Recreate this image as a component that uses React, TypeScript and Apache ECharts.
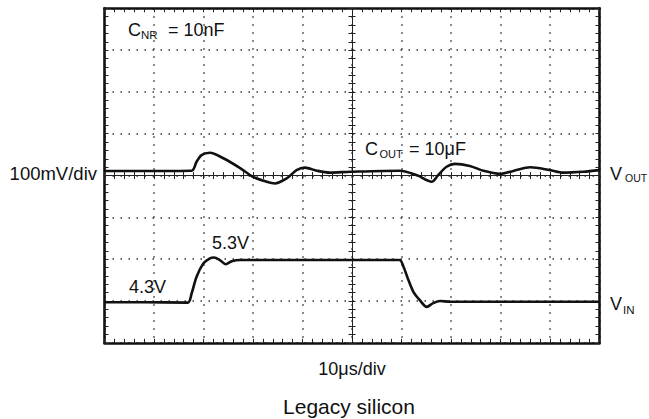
import React, { useEffect, useRef } from "react";
import * as echarts from "echarts";

// time in µs (10 µs/div), amplitude in divisions
const xTicks = [0, 10, 20, 30, 40, 50, 60, 70, 80, 90, 100];
const yTicks = [-4, -3, -2, -1, 0, 1, 2, 3, 4];

const voutX = [0, 9, 17.6, 18.6, 19.6, 21.3, 23.9, 27.4, 30.0, 32.8, 34.4, 36.8, 38.8, 40.5, 42.9, 45.5, 49.6, 59.7, 63.1, 66.1, 67.4, 69.1, 70.8, 73.8, 76.5, 79.9, 82.6, 86.0, 90.0, 92.7, 96.7, 100];
const voutY = [0.11, 0.11, 0.115, 0.33, 0.49, 0.545, 0.42, 0.18, -0.03, -0.15, -0.19, -0.07, 0.13, 0.19, 0.115, 0.07, 0.09, 0.115, 0.01, -0.15, 0.01, 0.21, 0.28, 0.23, 0.115, 0.04, 0.11, 0.197, 0.13, 0.07, 0.09, 0.13];

const vinX = [0, 8, 16.8, 17.6, 18.6, 20.0, 21.3, 22.1, 23.3, 24.5, 25.7, 27.4, 40, 50, 59.6, 60.4, 61.4, 62.4, 63.7, 65.1, 66.4, 67.8, 69.8, 80, 90, 100];
const vinY = [-3.03, -3.03, -3.04, -2.82, -2.42, -2.10, -1.98, -1.96, -2.02, -2.12, -2.05, -2.02, -2.02, -2.02, -2.02, -2.18, -2.50, -2.78, -2.98, -3.14, -3.05, -3.0, -3.02, -3.02, -3.02, -3.02];

const FONT = "'Liberation Sans', Arial, Helvetica, sans-serif";
const INK = "#111";

const GRID = { left: 104.5, top: 8.3, width: 495, height: 334.5 };

function txt(text: string, x: number, y: number, size: number, align: string = "left") {
  return {
    type: "text",
    x,
    y,
    silent: true,
    style: { text, fontSize: size, fontFamily: FONT, fill: INK, align, verticalAlign: "middle" },
  };
}

export default function App() {
  const ref = useRef<HTMLDivElement>(null);
  useEffect(() => {
    if (!ref.current) return;
    const chart = echarts.init(ref.current, undefined, { renderer: "svg" });
    const base = {
      type: "value",
      min: xTicks[0],
      max: xTicks[xTicks.length - 1],
      interval: xTicks[1] - xTicks[0],
      axisLabel: { show: false },
      splitLine: { show: false },
    };
    const ybase = {
      type: "value",
      min: yTicks[0],
      max: yTicks[yTicks.length - 1],
      interval: yTicks[1] - yTicks[0],
      axisLabel: { show: false },
      splitLine: { show: false },
    };
    const border = {
      axisLine: { show: true, onZero: false, lineStyle: { color: INK, width: 2.6 } },
      axisTick: { show: true, inside: true, length: 4, lineStyle: { color: "#222", width: 1 } },
      minorTick: { show: true, splitNumber: 5, length: 4, lineStyle: { color: "#222", width: 1 } },
    };
    const center = {
      axisLine: { show: true, onZero: false, lineStyle: { color: "#222", width: 1 } },
      axisTick: { show: true, inside: false, length: 3.5, lineStyle: { color: "#222", width: 1 } },
      minorTick: { show: true, splitNumber: 5, length: 3.5, lineStyle: { color: "#222", width: 1 } },
    };
    const dotted = { show: true, lineStyle: { color: "#333", width: 1.5, type: [1.5, 6.5] } };
    const option: any = {
      animation: false,
      grid: { ...GRID, outerBoundsMode: "none" },
      xAxis: [
        { ...base, ...border, position: "bottom", splitLine: dotted },
        { ...base, ...border, position: "top" },
        { ...base, ...center, position: "bottom", offset: -GRID.height / 2 },
        { ...base, ...center, position: "top", offset: -GRID.height / 2 },
      ],
      yAxis: [
        { ...ybase, ...border, position: "left", splitLine: dotted },
        { ...ybase, ...border, position: "right" },
        { ...ybase, ...center, position: "left", offset: -GRID.width / 2 },
        { ...ybase, ...center, position: "right", offset: -GRID.width / 2 },
      ],
      series: [
        {
          name: "VOUT",
          type: "line",
          data: voutX.map((x, i) => [x, voutY[i]]),
          showSymbol: false,
          smooth: 0.3,
          lineStyle: { color: INK, width: 2.6 },
          z: 5,
        },
        {
          name: "VIN",
          type: "line",
          data: vinX.map((x, i) => [x, vinY[i]]),
          showSymbol: false,
          smooth: 0.3,
          lineStyle: { color: INK, width: 2.6 },
          z: 5,
        },
      ],
      graphic: [
        txt("C", 128, 29.5, 18),
        txt("NR", 141, 35, 11.5),
        txt("= 10nF", 168, 29.5, 18),
        txt("C", 365, 148.5, 18),
        txt("OUT", 379.5, 154, 11),
        txt("= 10μF", 409, 148.5, 18),
        txt("5.3V", 212, 243, 18),
        txt("4.3V", 129, 286.5, 18),
        txt("100mV/div", 97, 173, 18.5, "right"),
        txt("V", 610, 173.5, 18),
        txt("OUT", 625, 177.5, 10.5),
        txt("V", 610, 303.5, 18),
        txt("IN", 623, 309.5, 11.5),
        txt("10μs/div", 352, 369, 18, "center"),
        txt("Legacy silicon", 349, 406.5, 21, "center"),
      ],
    };
    chart.setOption(option);
    return () => chart.dispose();
  }, []);
  return (
    <div
      ref={ref}
      style={{ position: "absolute", left: 0, top: 0, width: 649, height: 419, background: "#fff" }}
    />
  );
}
